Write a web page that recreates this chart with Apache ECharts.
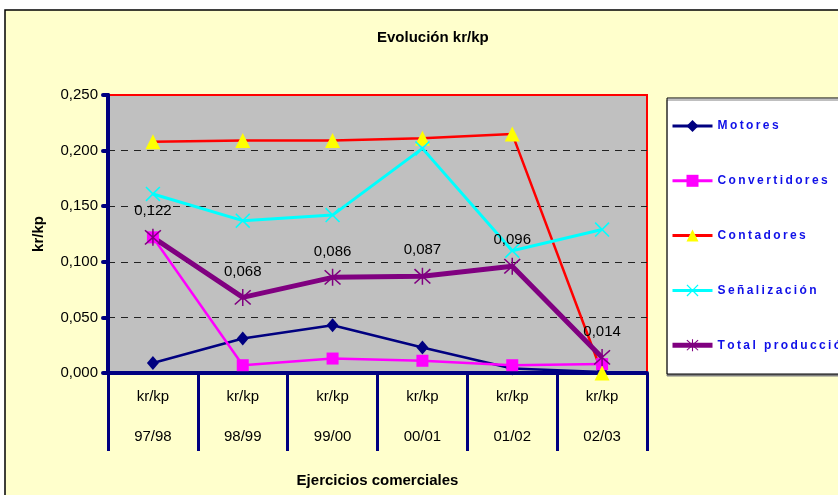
<!DOCTYPE html>
<html>
<head>
<meta charset="utf-8">
<script src="https://cdn.jsdelivr.net/npm/echarts@6/dist/echarts.min.js"></script>
<style>
    html, body {margin: 0; padding: 0; background: #fff;}
    #main {width: 838px; height: 495px;}
</style>
</head>
<body>
<div id="main"></div>
<script>
var ejercicios = ['97/98', '98/99', '99/00', '00/01', '01/02', '02/03'],
    motores = [0.009, 0.031, 0.043, 0.023, 0.004, 0.001],
    convertidores = [0.122, 0.007, 0.013, 0.011, 0.007, 0.008],
    contadores = [0.208, 0.209, 0.209, 0.211, 0.215, 0.000],
    senalizacion = [0.161, 0.137, 0.142, 0.202, 0.110, 0.129],
    totalProduccion = [0.122, 0.068, 0.086, 0.087, 0.096, 0.014],
    yTicks = {min: 0, max: 0.25, interval: 0.05};

var FONT = 'Liberation Sans, Arial, sans-serif',
    NAVY = '#000080';

/*simbolos hechos con barras finas*/
var symbolCruz = 'path://M0,1.5L1.5,0L20,18.5L18.5,20Z M18.5,0L20,1.5L1.5,20L0,18.5Z',
    symbolAsterisco = 'path://M9.2,0L10.8,0L10.8,20L9.2,20Z M1,2.2L2.2,1L19,17.8L17.8,19Z M17.8,1L19,2.2L2.2,19L1,17.8Z';

function coma(v) {
    return v.toFixed(3).replace('.', ',');
}

var myChart = echarts.init(document.getElementById('main'));

var option = {
    backgroundColor: '#ffffff',
    textStyle: {fontFamily: FONT},
    graphic: [
        {
            type: 'rect', z: -10,
            shape: {x: 5, y: 10, width: 900, height: 600},
            style: {fill: '#FFFFCC', stroke: '#000', lineWidth: 1.5}
        },
        {
            type: 'rect', z: -5,
            shape: {x: 667, y: 98, width: 240, height: 276},
            style: {fill: '#fff', stroke: '#000', lineWidth: 1,
                shadowColor: '#808080', shadowOffsetX: 0, shadowOffsetY: 2, shadowBlur: 0}
        }
    ],
    title: {
        text: 'Evolución kr/kp',
        left: 372,
        top: 25,
        textStyle: {fontFamily: FONT, fontSize: 15, fontWeight: 'bold', color: '#000'}
    },
    legend: {
        orient: 'vertical',
        left: 670,
        top: 120,
        padding: 0,
        itemWidth: 40,
        itemHeight: 15,
        itemGap: 42.8,
        formatter: function (name) {
            return name.split('').join('\u2009');
        },
        textStyle: {fontFamily: FONT, fontSize: 12, fontWeight: 'bold', color: '#1010E8'},
        data: [
            {name: 'Motores', lineStyle: {width: 3}},
            {name: 'Convertidores', lineStyle: {width: 3}},
            {name: 'Contadores', lineStyle: {width: 3}},
            {name: 'Señalización', lineStyle: {width: 3}},
            {name: 'Total producción', lineStyle: {width: 5}}
        ]
    },
    grid: {
        left: 108,
        top: 95,
        right: 191,
        bottom: 122,
        show: true,
        backgroundColor: '#C0C0C0',
        borderColor: '#FF0000',
        borderWidth: 2
    },
    xAxis: {
        type: 'category',
        data: ejercicios,
        boundaryGap: true,
        name: 'Ejercicios comerciales',
        nameLocation: 'middle',
        nameGap: 100,
        nameTextStyle: {fontFamily: FONT, fontSize: 15, fontWeight: 'bold', color: '#000'},
        axisLine: {lineStyle: {color: NAVY, width: 4}},
        axisTick: {show: true, interval: 0, length: 78, lineStyle: {color: NAVY, width: 3}},
        axisLabel: {
            interval: 0,
            margin: 14,
            fontSize: 15,
            lineHeight: 20,
            color: '#000',
            formatter: function (v) {
                return 'kr/kp\n\n' + v;
            }
        },
        splitLine: {show: false}
    },
    yAxis: {
        type: 'value',
        min: yTicks.min,
        max: yTicks.max,
        interval: yTicks.interval,
        name: 'kr/kp',
        nameLocation: 'middle',
        nameGap: 62,
        nameTextStyle: {fontFamily: FONT, fontSize: 15, fontWeight: 'bold', color: '#000'},
        axisLine: {show: true, lineStyle: {color: NAVY, width: 4}},
        axisTick: {show: true, length: 5, lineStyle: {color: NAVY, width: 4, cap: 'round'}},
        axisLabel: {
            margin: 10,
            fontSize: 15,
            color: '#000',
            formatter: function (v) {
                return coma(v);
            }
        },
        splitLine: {
            show: true,
            showMinLine: false,
            showMaxLine: false,
            lineStyle: {color: '#222', width: 1, type: [7, 6]}
        }
    },
    series: [
        {
            name: 'Motores',
            type: 'line',
            symbol: 'diamond',
            symbolSize: [12, 14],
            itemStyle: {color: NAVY},
            lineStyle: {color: NAVY, width: 2.5},
            data: motores
        },
        {
            name: 'Convertidores',
            type: 'line',
            symbol: 'rect',
            symbolSize: 12,
            itemStyle: {color: '#FF00FF'},
            lineStyle: {color: '#FF00FF', width: 2.5},
            data: convertidores
        },
        {
            name: 'Contadores',
            type: 'line',
            symbol: 'triangle',
            symbolSize: [15, 15],
            itemStyle: {color: '#FFFF00'},
            lineStyle: {color: '#FF0000', width: 2.5},
            data: contadores
        },
        {
            name: 'Señalización',
            type: 'line',
            symbol: symbolCruz,
            symbolSize: 15,
            itemStyle: {color: '#00FFFF'},
            lineStyle: {color: '#00FFFF', width: 3},
            data: senalizacion
        },
        {
            name: 'Total producción',
            type: 'line',
            symbol: symbolAsterisco,
            symbolSize: 17,
            itemStyle: {color: '#800080'},
            lineStyle: {color: '#800080', width: 5},
            label: {
                show: true,
                position: 'top',
                distance: 10,
                fontFamily: FONT,
                fontSize: 15,
                color: '#000',
                formatter: function (p) {
                    return coma(p.value);
                }
            },
            data: totalProduccion
        }
    ]
};

myChart.setOption(option);
</script>
</body>
</html>
